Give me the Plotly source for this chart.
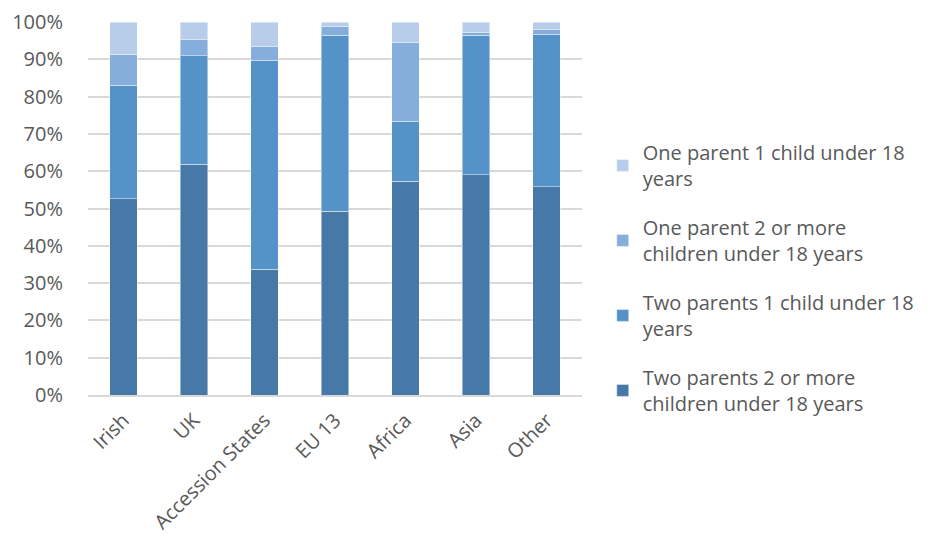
import plotly.graph_objects as go

categories = ["Irish", "UK", "Accession States", "EU 13", "Africa", "Asia", "Other"]
two_parents_2plus = [52.6, 61.9, 33.7, 49.2, 57.3, 59.0, 55.8]
two_parents_1 = [30.4, 29.1, 56.0, 47.3, 16.1, 37.5, 40.9]
one_parent_2plus = [8.3, 4.3, 3.7, 2.3, 21.0, 0.7, 1.2]
one_parent_1 = [8.7, 4.7, 6.6, 1.2, 5.6, 2.8, 2.1]

series = [
    ("Two parents 2 or more<br>children under 18 years", two_parents_2plus, "#4678A8"),
    ("Two parents 1 child under 18<br>years", two_parents_1, "#5592C8"),
    ("One parent 2 or more<br>children under 18 years", one_parent_2plus, "#85AEDC"),
    ("One parent 1 child under 18<br>years", one_parent_1, "#B8CDE9"),
]

fig = go.Figure()
for i, (name, vals, col) in enumerate(series):
    fig.add_trace(go.Bar(
        x=categories, y=[v / 100 for v in vals], name=name,
        marker=dict(color=col, line=dict(color="rgba(255,255,255,0.45)", width=1)),
        legendgroup=str(i), legendrank=10 - i,
    ))

fig.update_layout(
    barmode="stack",
    bargap=0.61,
    width=922, height=529,
    margin=dict(l=80, r=348, t=14, b=142, autoexpand=False),
    plot_bgcolor="white", paper_bgcolor="white",
    font=dict(family="Open Sans", size=20, color="#595959"),
    legend=dict(
        x=1.042, y=0.314, yanchor="middle", xanchor="left",
        traceorder="grouped", tracegroupgap=20,
        font=dict(size=20, color="#595959"),
        itemwidth=30,
    ),
    yaxis=dict(
        range=[0, 1], tickformat=".0%", dtick=0.1,
        showgrid=True, gridcolor="#D9D9D9", gridwidth=1.5,
        zeroline=False, showline=False, automargin=False,
        ticklabelstandoff=24,
    ),
    xaxis=dict(
        tickangle=-45, showline=True, linecolor="#D9D9D9", linewidth=1.5,
        ticklabelstandoff=4, automargin=False,
    ),
)

fig.write_html("out.html")
